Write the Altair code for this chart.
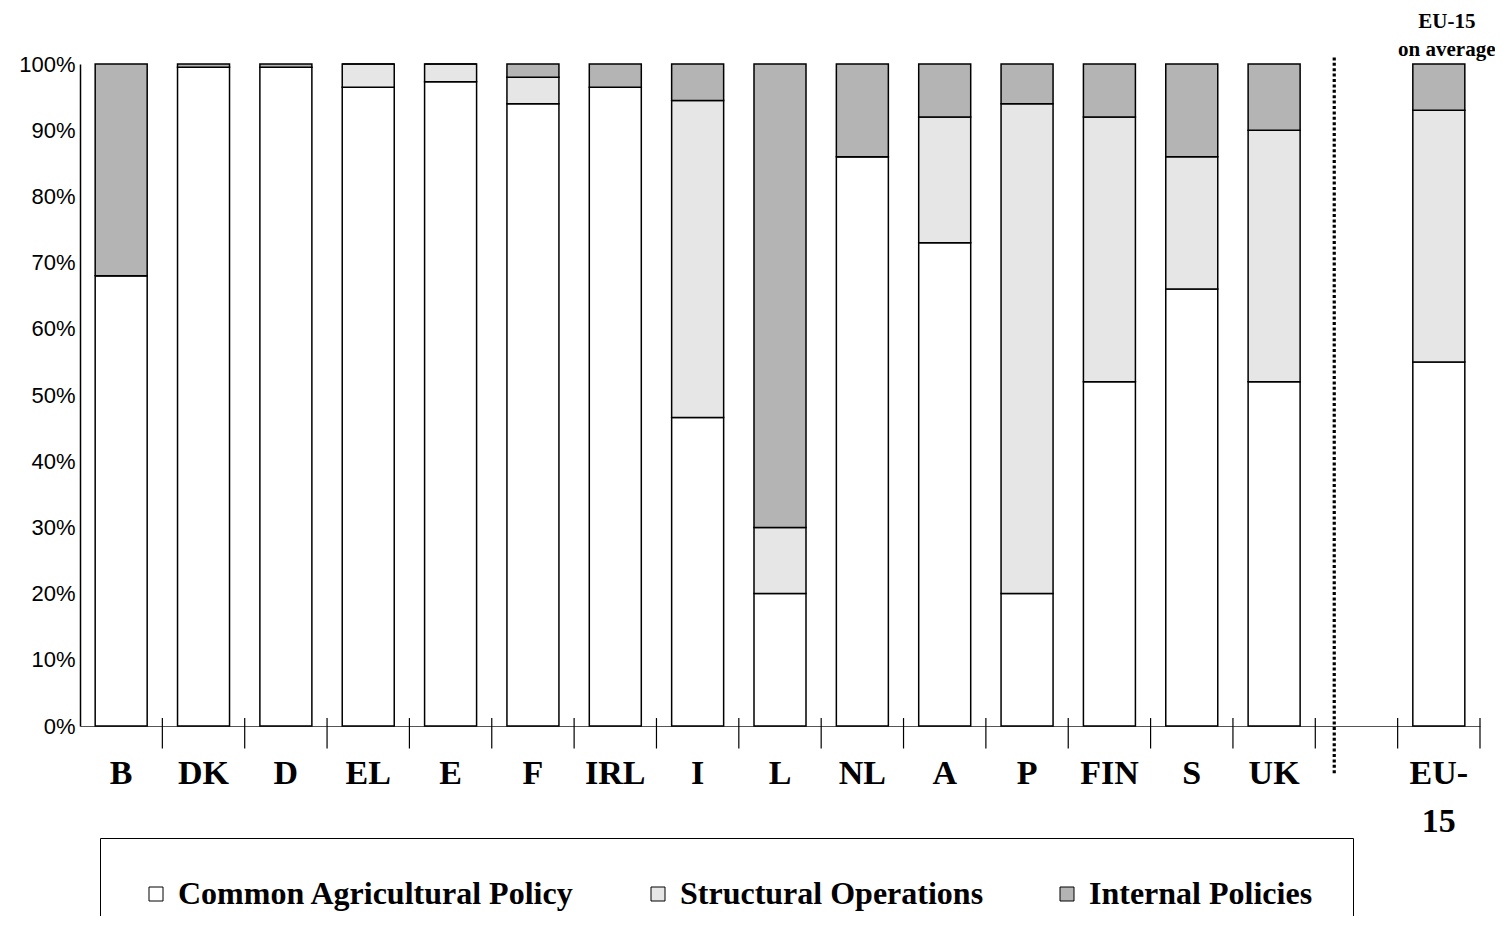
import altair as alt
import pandas as pd

# ---- data ----
countries = ["B", "DK", "D", "EL", "E", "F", "IRL", "I", "L", "NL", "A", "P", "FIN", "S", "UK", "EU-15"]
slots = [0, 1, 2, 3, 4, 5, 6, 7, 8, 9, 10, 11, 12, 13, 14, 16]
cap = [68.0, 99.5, 99.5, 96.5, 97.3, 94.0, 96.5, 46.6, 20.0, 86.0, 73.0, 20.0, 52.0, 66.0, 52.0, 55.0]
structural = [0.0, 0.0, 0.0, 3.5, 2.7, 4.0, 0.0, 47.9, 10.0, 0.0, 19.0, 74.0, 40.0, 20.0, 38.0, 38.0]
internal = [32.0, 0.5, 0.5, 0.0, 0.0, 2.0, 3.5, 5.5, 70.0, 14.0, 8.0, 6.0, 8.0, 14.0, 10.0, 7.0]
series = ["Common Agricultural Policy", "Structural Operations", "Internal Policies"]
series_colors = ["#ffffff", "#e6e6e6", "#b4b4b4"]
x_tick_positions = [0.5, 1.5, 2.5, 3.5, 4.5, 5.5, 6.5, 7.5, 8.5, 9.5, 10.5, 11.5, 12.5, 13.5, 14.5, 15.5, 16.5]
y_ticks = [0, 10, 20, 30, 40, 50, 60, 70, 80, 90, 100]
separator_slot = [14.73]
display_labels = ["B", "DK", "D", "EL", "E", "F", "IRL", "I", "L", "NL", "A", "P", "FIN", "S", "UK", "EU-\n15"]

rows = []
for c, s, a, b, d in zip(countries, slots, cap, structural, internal):
    for k, (name, v) in enumerate(zip(series, [a, b, d])):
        rows.append({"country": c, "slot": s, "series": name, "value": v, "order": k})
df = pd.DataFrame(rows)

W, H = 1400, 662
xscale = alt.Scale(domain=[-0.5, 16.5], nice=False, zero=False, padding=0)
yscale = alt.Scale(domain=[0, 100], nice=False)

bars = alt.Chart(df).mark_bar(size=52, stroke="black", strokeWidth=1.5).encode(
    x=alt.X("slot:Q", scale=xscale,
            axis=alt.Axis(labels=False, ticks=False, grid=False, title=None,
                          domainColor="#555555", domainWidth=1)),
    y=alt.Y("value:Q", stack="zero", scale=yscale,
            axis=alt.Axis(values=y_ticks, labelExpr="datum.value + '%'", ticks=False, grid=False,
                          title=None, labelFont="Liberation Sans", labelFontSize=22,
                          labelColor="black", labelPadding=5, domainColor="black", domainWidth=1.5)),
    fill=alt.Fill("series:N", scale=alt.Scale(domain=series, range=series_colors),
                  legend=alt.Legend(orient="none", legendX=20, legendY=774, direction="horizontal",
                                    title=None, padding=40, strokeColor="black",
                                    columnPadding=67, labelFont="Liberation Serif",
                                    labelFontSize=32, labelFontWeight="bold", labelColor="black",
                                    labelLimit=0, labelOffset=6, symbolType="square",
                                    symbolSize=196, symbolStrokeColor="black",
                                    symbolStrokeWidth=1)),
    order=alt.Order("order:Q"),
)

tick_df = pd.DataFrame({"pos": x_tick_positions, "top": [1.2] * len(x_tick_positions),
                        "bottom": [-3.4] * len(x_tick_positions)})
ticks = alt.Chart(tick_df).mark_rule(color="black", strokeWidth=1.2).encode(
    x=alt.X("pos:Q", scale=xscale), y=alt.Y("top:Q", scale=yscale), y2="bottom:Q")

sep_df = pd.DataFrame({"pos": separator_slot, "top": [101.0], "bottom": [-7.4]})
separator = alt.Chart(sep_df).mark_rule(color="black", strokeWidth=3.2, strokeDash=[3, 2.4]).encode(
    x=alt.X("pos:Q", scale=xscale), y=alt.Y("top:Q", scale=yscale), y2="bottom:Q")

lab_df = pd.DataFrame({"slot": slots, "label": display_labels})
labels = alt.Chart(lab_df).mark_text(font="Liberation Serif", fontSize=34, fontWeight="bold",
                                     baseline="alphabetic", align="center", lineBreak="\n",
                                     lineHeight=48, color="black").encode(
    x=alt.X("slot:Q", scale=xscale), y=alt.value(H + 58), text="label:N")

note_df = pd.DataFrame({"slot": [16], "label": ["EU-15\non average"]})
note = alt.Chart(note_df).mark_text(font="Liberation Serif", fontSize=21, fontWeight="bold",
                                    baseline="top", align="center", lineBreak="\n",
                                    lineHeight=28, dx=8, color="black").encode(
    x=alt.X("slot:Q", scale=xscale), y=alt.value(-53), text="label:N")

chart = alt.layer(bars, ticks, separator, labels, note).properties(
    width=W, height=H,
    padding={"left": 72, "top": 56, "right": 15, "bottom": 190},
    autosize=alt.AutoSizeParams(type="none"),
).configure_view(stroke=None)

chart.save("out.html", embed_options={"renderer": "svg", "actions": False})
